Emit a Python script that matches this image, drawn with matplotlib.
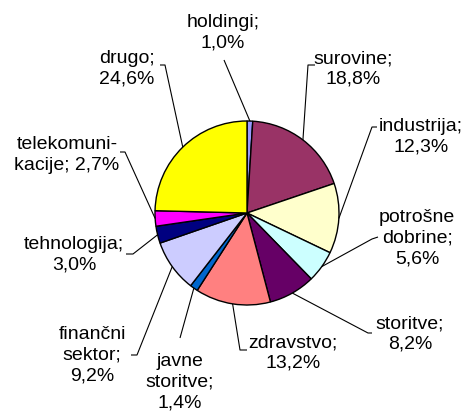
import numpy as np
import matplotlib
matplotlib.use("Agg")
import matplotlib.pyplot as plt

# ---- data ----
categories = ["holdingi", "surovine", "industrija", "potrošne\ndobrine", "storitve",
              "zdravstvo", "javne\nstoritve", "finančni\nsektor", "tehnologija",
              "telekomuni-\nkacije", "drugo"]
values = [1.0, 18.8, 12.3, 5.6, 8.2, 13.2, 1.4, 9.2, 3.0, 2.7, 24.6]
value_labels = ["1,0%", "18,8%", "12,3%", "5,6%", "8,2%", "13,2%", "1,4%", "9,2%",
                "3,0%", "2,7%", "24,6%"]
colors = ["#9999FF", "#993366", "#FFFFCC", "#CCFFFF", "#660066", "#FF8080",
          "#0066CC", "#CCCCFF", "#000080", "#FF00FF", "#FFFF00"]

# ---- layout (pixel coords, y downward) ----
W, H = 465, 415
cx, cy, R = 247, 213, 92
# label text centre, separator between name and value, leader start, hook end
label_pos = [
    ((223, 33), "\n", None),
    ((353, 69), "\n", (315, 65)),
    ((421, 137), "\n", (377, 127)),
    ((417, 238), "\n", (378, 237)),
    ((410, 334), "\n", (372, 333)),
    ((293, 353), "\n", (247, 350)),
    ((180, 382), "\n", None),
    ((92, 355), "\n", (131, 355)),
    ((74, 255), "\n", (126, 254)),
    ((67, 155), " ", (120, 152)),
    ((127, 69), "\n", (160, 65)),
]
leader_start = [(224, 60), (308, 65), (372, 127), (372, 239), (368, 333),
                (240, 350), (180, 338), (137, 355), (133, 254), (125, 152), (165, 65)]

plt.rcParams['font.family'] = ['Liberation Sans', 'DejaVu Sans']

fig = plt.figure(figsize=(W / 100, H / 100), dpi=100)
ax = fig.add_axes([0, 0, 1, 1])
ax.set_xlim(0, W)
ax.set_ylim(0, H)
ax.set_aspect('equal')
ax.axis('off')

ax.pie(values, colors=colors, startangle=90, counterclock=False,
       center=(cx, H - cy), radius=R, frame=True,
       wedgeprops=dict(edgecolor='black', linewidth=1.0))
ax.set_xlim(0, W)
ax.set_ylim(0, H)
ax.axis('off')

total = sum(values)
cum = 0.0
for i, v in enumerate(values):
    mid = 90 - (cum + v / 2) / total * 360
    cum += v
    ex = cx + R * np.cos(np.radians(mid))
    ey = cy - R * np.sin(np.radians(mid))
    (tx, ty), sep, hook = label_pos[i]
    ls = leader_start[i]
    pts = []
    if hook is not None:
        pts.append(hook)
    pts.append(ls)
    pts.append((ex, ey))
    xs = [p[0] for p in pts]
    ys = [H - p[1] for p in pts]
    ax.plot(xs, ys, color='black', linewidth=0.8, solid_capstyle='butt')
    name = categories[i]
    ax.text(tx, H - ty, name + ";" + sep + value_labels[i], ha='center', va='center',
            fontsize=14, linespacing=1.3, color='black')

fig.savefig("out.png", dpi=100)
